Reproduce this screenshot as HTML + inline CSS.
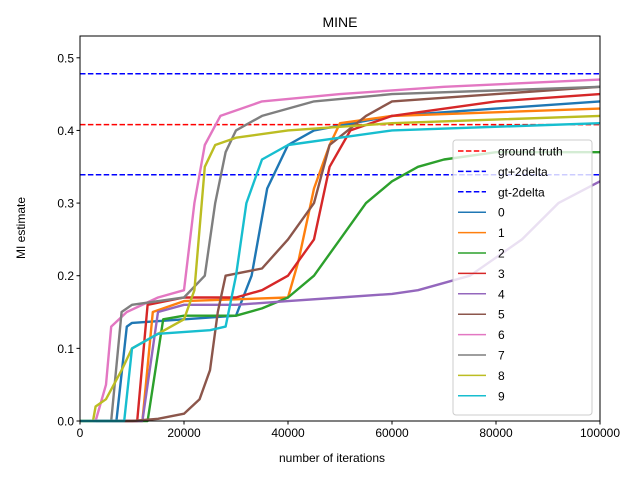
<!DOCTYPE html>
<html><head><meta charset="utf-8"><style>
body{margin:0;background:#fff}
svg text{font-family:"Liberation Sans","DejaVu Sans",sans-serif}
</style></head><body>
<svg id="c" width="640" height="480" xmlns="http://www.w3.org/2000/svg">
<rect width="640" height="480" fill="#fff"/>
<text x="340" y="27" font-size="14" text-anchor="middle">MINE</text>
<g id="plot"></g>
<rect x="80" y="36" width="520" height="385" fill="none" stroke="#000" stroke-width="1"/>
<g id="axes"></g>
<text x="332" y="462" font-size="12" text-anchor="middle">number of iterations</text>
<text transform="translate(25,228) rotate(-90)" font-size="12" text-anchor="middle">MI estimate</text>
<g id="legend"></g>
</svg>
<script>
const xTicks=[0,20000,40000,60000,80000,100000];
const yTicks=[0.0,0.1,0.2,0.3,0.4,0.5];
const refNames=["ground truth","gt+2delta","gt-2delta"];
const refValues=[0.408,0.478,0.339];
const refColors=["#ff0000","#0000ff","#0000ff"];
const seriesNames=["0","1","2","3","4","5","6","7","8","9"];
const colors=["#1f77b4","#ff7f0e","#2ca02c","#d62728","#9467bd","#8c564b","#e377c2","#7f7f7f","#bcbd22","#17becf"];
const s0x=[0,7000,9000,10000,20000,30000,33000,36000,40000,45000,60000,80000,100000];
const s0y=[0,0,0.13,0.135,0.14,0.145,0.2,0.32,0.38,0.40,0.42,0.43,0.44];
const s1x=[0,12000,14000,20000,40000,42000,45000,48000,50000,60000,100000];
const s1y=[0,0,0.15,0.165,0.17,0.22,0.32,0.38,0.41,0.42,0.43];
const s2x=[0,13000,16000,20000,30000,35000,40000,45000,50000,55000,60000,65000,70000,80000,100000];
const s2y=[0,0,0.14,0.145,0.145,0.155,0.17,0.2,0.25,0.3,0.33,0.35,0.36,0.37,0.37];
const s3x=[0,11000,13000,20000,30000,35000,40000,45000,48000,52000,60000,80000,100000];
const s3y=[0,0,0.16,0.17,0.17,0.18,0.2,0.25,0.35,0.40,0.42,0.44,0.45];
const s4x=[0,12000,15000,20000,30000,40000,50000,60000,65000,75000,85000,92000,100000];
const s4y=[0,0,0.15,0.16,0.16,0.165,0.17,0.175,0.18,0.2,0.25,0.3,0.33];
const s5x=[0,10000,15000,20000,23000,25000,26500,28000,35000,40000,45000,48000,55000,60000,80000,100000];
const s5y=[0,0,0.003,0.01,0.03,0.07,0.15,0.2,0.21,0.25,0.3,0.38,0.42,0.44,0.45,0.46];
const s6x=[0,3000,5000,6000,9000,15000,20000,22000,24000,27000,35000,50000,70000,100000];
const s6y=[0,0,0.05,0.13,0.15,0.17,0.18,0.3,0.38,0.42,0.44,0.45,0.46,0.47];
const s7x=[0,6000,8000,10000,20000,24000,26000,28000,30000,35000,45000,60000,100000];
const s7y=[0,0,0.15,0.16,0.17,0.2,0.3,0.37,0.4,0.42,0.44,0.45,0.46];
const s8x=[0,2500,3000,5000,8000,10000,15000,20000,22000,24000,26000,30000,40000,60000,100000];
const s8y=[0,0,0.02,0.03,0.07,0.1,0.12,0.14,0.18,0.35,0.38,0.39,0.40,0.41,0.42];
const s9x=[0,8500,10000,15000,25000,28000,30000,32000,35000,40000,50000,60000,100000];
const s9y=[0,0,0.1,0.12,0.125,0.13,0.2,0.3,0.36,0.38,0.39,0.40,0.41];
const allX=[s0x,s1x,s2x,s3x,s4x,s5x,s6x,s7x,s8x,s9x];
const allY=[s0y,s1y,s2y,s3y,s4y,s5y,s6y,s7y,s8y,s9y];

const NS="http://www.w3.org/2000/svg";
const L=80,R=600,T=36,B=421,YMAX=0.53;
const xs=v=>L+v/100000*(R-L);
const ys=v=>B-v/YMAX*(B-T);
function mk(tag,attrs,parent){const e=document.createElementNS(NS,tag);for(const k in attrs)e.setAttribute(k,attrs[k]);parent.appendChild(e);return e;}
const plot=document.getElementById('plot'),axes=document.getElementById('axes'),leg=document.getElementById('legend');
refValues.forEach((v,i)=>{
  const l=mk('line',{x1:L,x2:R,y1:ys(v),y2:ys(v),stroke:refColors[i],'stroke-width':1.5,'stroke-dasharray':'5.5,2.4'},plot);
  
  
});
allX.forEach((xa,i)=>{
  const d=xa.map((x,j)=>(j?'L':'M')+xs(x).toFixed(1)+','+ys(allY[i][j]).toFixed(1)).join('');
  const p=mk('path',{d:d,fill:'none',stroke:colors[i],'stroke-width':2.4,'stroke-linejoin':'round'},plot);
  
  
});
xTicks.forEach(v=>{
  mk('line',{x1:xs(v),x2:xs(v),y1:B,y2:B+3.5,stroke:'#000'},axes);
  const t=mk('text',{x:xs(v),y:B+16,'font-size':12,'text-anchor':'middle'},axes);t.textContent=v;
  
  
});
yTicks.forEach(v=>{
  mk('line',{x1:L-3.5,x2:L,y1:ys(v),y2:ys(v),stroke:'#000'},axes);
  const t=mk('text',{x:L-6,y:ys(v)+4.5,'font-size':12,'text-anchor':'end'},axes);t.textContent=v.toFixed(1);
  
  
});
const box=mk('rect',{x:453,y:140,width:139,height:275,rx:3,fill:'#fff','fill-opacity':0.8,stroke:'#ccc'},leg);


const names=refNames.concat(seriesNames),cols=refColors.concat(colors);
names.forEach((n,i)=>{
  const y=151+i*20.4;
  const g=mk('g',{},leg);
  
  
  const a={x1:458,x2:486,y1:y,y2:y,stroke:cols[i],'stroke-width':1.5};
  if(i<3)a['stroke-dasharray']='5.5,2.4';
  mk('line',a,g);
  const t=mk('text',{x:498,y:y+4.5,'font-size':12},g);t.textContent=n;
});
</script>
</body></html>
